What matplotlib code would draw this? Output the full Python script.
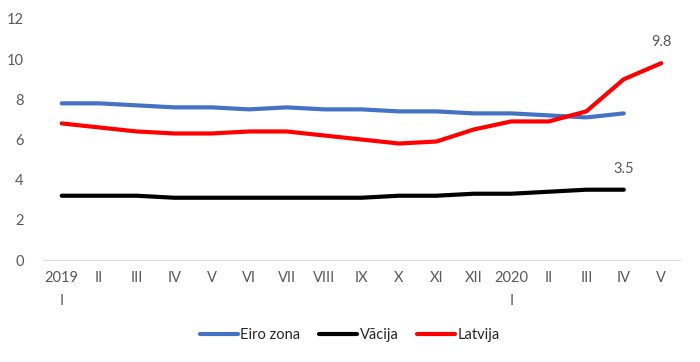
import matplotlib.pyplot as plt

plt.rcParams['font.family'] = ['Lato', 'DejaVu Sans']

months = ['2019\nI', 'II', 'III', 'IV', 'V', 'VI', 'VII', 'VIII', 'IX', 'X',
          'XI', 'XII', '2020\nI', 'II', 'III', 'IV', 'V']
eiro_zona = [7.8, 7.8, 7.7, 7.6, 7.6, 7.5, 7.6, 7.5, 7.5, 7.4, 7.4, 7.3, 7.3,
             7.2, 7.1, 7.3]
vacija = [3.2, 3.2, 3.2, 3.1, 3.1, 3.1, 3.1, 3.1, 3.1, 3.2, 3.2, 3.3, 3.3,
          3.4, 3.5, 3.5]
latvija = [6.8, 6.6, 6.4, 6.3, 6.3, 6.4, 6.4, 6.2, 6.0, 5.8, 5.9, 6.5, 6.9,
           6.9, 7.4, 9.0, 9.8]

txt = '#595959'

fig = plt.figure(figsize=(7, 3.62), dpi=100)
ax = fig.add_axes([43/700, 102/362, 637/700, 241/362])

ax.plot(range(len(eiro_zona)), eiro_zona, color='#4472C4', lw=3, label='Eiro zona',
        solid_capstyle='round')
ax.plot(range(len(vacija)), vacija, color='black', lw=3, label='Vācija',
        solid_capstyle='round')
ax.plot(range(len(latvija)), latvija, color='#FF0000', lw=3, label='Latvija',
        solid_capstyle='round')

# data labels on last points
ax.annotate(f'{vacija[-1]}', (len(vacija) - 1, vacija[-1]), xytext=(0, 10),
            textcoords='offset points', ha='center', va='bottom', color=txt, fontsize=10.5)
ax.annotate(f'{latvija[-1]}', (len(latvija) - 1, latvija[-1]), xytext=(0, 10),
            textcoords='offset points', ha='center', va='bottom', color=txt, fontsize=10.5)

ax.set_xlim(-0.5, len(months) - 0.5)
ax.set_ylim(0, 12)
ax.set_yticks(range(0, 13, 2))
ax.set_xticks(range(len(months)))
ax.set_xticklabels(months, linespacing=1.8, va='top')
ax.tick_params(axis='both', length=0, labelsize=10.5, colors=txt)
ax.tick_params(axis='x', pad=8)
ax.tick_params(axis='y', pad=14)

for s in ['top', 'right', 'left']:
    ax.spines[s].set_visible(False)
ax.spines['bottom'].set_color('#D9D9D9')

leg = fig.legend(loc='center', bbox_to_anchor=(0.5, 27/362), ncol=3, frameon=False,
                 fontsize=10.5, handlelength=2.6, handletextpad=0.15, columnspacing=1.3)
for t in leg.get_texts():
    t.set_color('#262626')

fig.savefig('out.png', dpi=100)
